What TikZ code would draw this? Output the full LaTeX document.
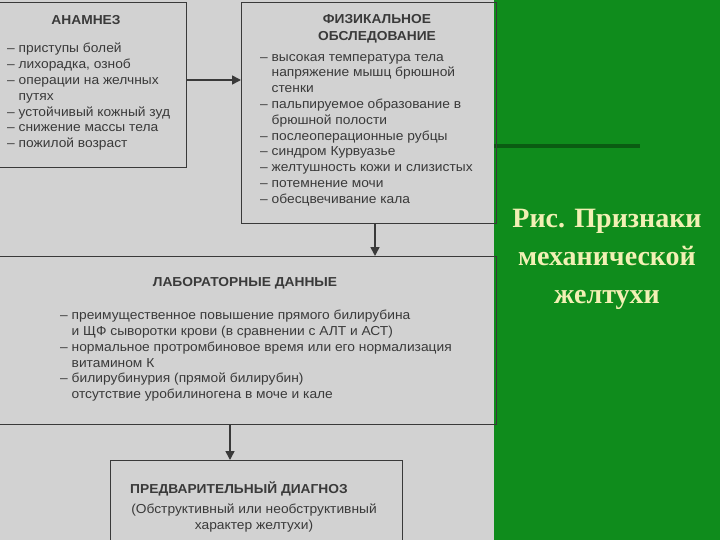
\documentclass[tikz,border=0pt]{standalone}
\usepackage{fontspec}
\setmainfont{Liberation Serif}
\newfontfamily\myssf[FakeStretch=1.06]{Liberation Sans}
\usetikzlibrary{arrows.meta}
\definecolor{bg}{HTML}{D2D2D2}
\definecolor{ink}{HTML}{3A3A3A}
\definecolor{grn}{HTML}{0F8C1C}
\definecolor{dgrn}{HTML}{0A5C12}
\definecolor{ylw}{HTML}{F2F0B4}
\begin{document}
\begin{tikzpicture}[x=1pt,y=-1pt,
  box/.style={draw=ink,line width=1pt},
  txt/.style={text=ink,font=\myssf\fontsize{13}{15.8}\selectfont,align=left,anchor=north west,inner sep=0},
  ttl/.style={text=ink,font=\myssf\bfseries\fontsize{13}{16.5}\selectfont,align=center,inner sep=0},
  arr/.style={draw=ink,line width=1.6pt,-{Triangle[length=9pt,width=9pt]}}]
\useasboundingbox (0,0) rectangle (720,540);
\fill[bg] (0,0) rectangle (494,540);
\fill[grn] (494,0) rectangle (720,540);
\fill[dgrn] (494,144) rectangle (640,148);
% boxes
\draw[box] (-2,3) rectangle (186,168);
\draw[box] (241,3) rectangle (496,224);
\draw[box] (-2,256) rectangle (496,424);
\draw[box] (110,460) rectangle (402,542);
\coordinate (a1) at (186,80); \coordinate (b1) at (241,80);
\coordinate (b2) at (375,224); \coordinate (c2) at (375,256);
\coordinate (c3) at (230,424); \coordinate (d3) at (230,460);
\draw[arr] (a1) -- (b1);
\draw[arr] (b2) -- (c2);
\draw[arr] (c3) -- (d3);
\node[ttl] (t1) at (86,20) {АНАМНЕЗ};
\node[txt] (l1) at (7,43) {– приступы болей\\– лихорадка, озноб\\– операции на желчных\\\phantom{– }путях\\– устойчивый кожный зуд\\– снижение массы тела\\– пожилой возраст};
\node[ttl] (t2) at (377,29) {ФИЗИКАЛЬНОЕ\\ОБСЛЕДОВАНИЕ};
\node[txt] (l2) at (260,54) {– высокая температура тела\\\phantom{– }напряжение мышц брюшной\\\phantom{– }стенки\\– пальпируемое образование в\\\phantom{– }брюшной полости\\– послеоперационные рубцы\\– синдром Курвуазье\\– желтушность кожи и слизистых\\– потемнение мочи\\– обесцвечивание кала};
\node[ttl] (t3) at (245,283) {ЛАБОРАТОРНЫЕ ДАННЫЕ};
\node[txt] (l3) at (60,310) {– преимущественное повышение прямого билирубина\\\phantom{– }и ЩФ сыворотки крови (в сравнении с АЛТ и АСТ)\\– нормальное протромбиновое время или его нормализация\\\phantom{– }витамином К\\– билирубинурия (прямой билирубин)\\\phantom{– }отсутствие уробилиногена в моче и кале};
\node[ttl] (t4) at (239,489) {ПРЕДВАРИТЕЛЬНЫЙ ДИАГНОЗ};
\node[ttl,font=\myssf\fontsize{13}{16.5}\selectfont] (l4) at (254,518) {(Обструктивный или необструктивный\\характер желтухи)};
\node[text=ylw,font=\bfseries\fontsize{28}{38}\selectfont,align=center,inner sep=0] (cap) at (607,259) {Рис. Признаки\\механической\\желтухи};
\end{tikzpicture}
\end{document}
